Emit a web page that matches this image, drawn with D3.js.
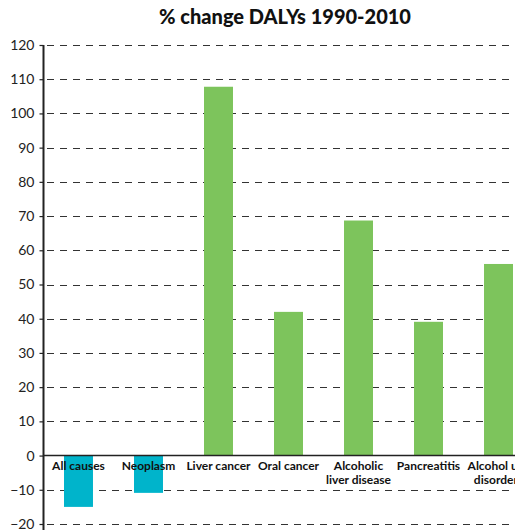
<!DOCTYPE html>
<html>
<head>
<meta charset="utf-8">
<script src="https://cdn.jsdelivr.net/npm/d3@7"></script>
<style>
  html, body { margin: 0; padding: 0; background: #fff; }
  svg { display: block; }
</style>
</head>
<body>
<svg id="chart" width="515" height="530"></svg>
<script>
const title = "% change DALYs 1990-2010";
const categories = ["All causes", "Neoplasm", "Liver cancer", "Oral cancer", "Alcoholic liver disease", "Pancreatitis", "Alcohol use disorders"];
const labelLines = [["All causes"], ["Neoplasm"], ["Liver cancer"], ["Oral cancer"], ["Alcoholic", "liver disease"], ["Pancreatitis"], ["Alcohol use", "disorders"]];
const values = [-15, -10.9, 107.8, 42, 68.7, 39.1, 56];
const yTicks = [-20, -10, 0, 10, 20, 30, 40, 50, 60, 70, 80, 90, 100, 110, 120];

const svg = d3.select("#chart");
const teal = "#00b4cb", green = "#7dc45c";

const y = d3.scaleLinear().domain([-20, 120]).range([524, 45]);
const x = d3.scaleBand().domain(categories).range([43, 534]).paddingInner(0.586).paddingOuter(0.3);

// title
svg.append("text").attr("x", 285).attr("y", 24).attr("text-anchor", "middle")
  .attr("font-family", "Lato, sans-serif").attr("font-weight", 900).attr("font-size", 20)
  .attr("fill", "#111").text(title);

// gridlines
svg.append("g").selectAll("line").data(yTicks.filter(d => d !== 0)).join("line")
  .attr("x1", 47).attr("x2", 515)
  .attr("y1", d => Math.round(y(d)) + 0.5).attr("y2", d => Math.round(y(d)) + 0.5)
  .attr("stroke", "#333").attr("stroke-width", 1.2).attr("stroke-dasharray", "7,6");

// bars
svg.append("g").selectAll("rect").data(values).join("rect")
  .attr("x", (d, i) => x(categories[i]))
  .attr("width", x.bandwidth())
  .attr("y", d => y(Math.max(0, d)))
  .attr("height", d => Math.abs(y(d) - y(0)))
  .attr("fill", d => d < 0 ? teal : green);

// y axis
const yAxis = d3.axisLeft(y).tickValues(yTicks).tickSize(4).tickPadding(5);
const ga = svg.append("g").attr("transform", "translate(43.5,0)").call(yAxis);
ga.select(".domain").attr("stroke", "#222").attr("stroke-width", 2).attr("d", "M0,45V530");
ga.selectAll(".tick line").attr("stroke", "#222").attr("stroke-width", 1.2);
ga.selectAll(".tick text").attr("font-family", "Lato, sans-serif").attr("font-size", 14).attr("fill", "#222");

// zero line
svg.append("line").attr("x1", 43).attr("x2", 515)
  .attr("y1", y(0)).attr("y2", y(0))
  .attr("stroke", "#222").attr("stroke-width", 1.5);

// category labels
const lg = svg.append("g");
labelLines.forEach((lines, i) => {
  const t = lg.append("text")
    .attr("x", x(categories[i]) + x.bandwidth() / 2)
    .attr("y", y(0) + 14)
    .attr("text-anchor", "middle")
    .attr("font-family", "Lato, sans-serif").attr("font-weight", 700).attr("font-size", 12)
    .attr("fill", "#111");
  lines.forEach((l, j) => t.append("tspan").attr("x", x(categories[i]) + x.bandwidth() / 2).attr("dy", j ? 14 : 0).text(l));
});
</script>
</body>
</html>
